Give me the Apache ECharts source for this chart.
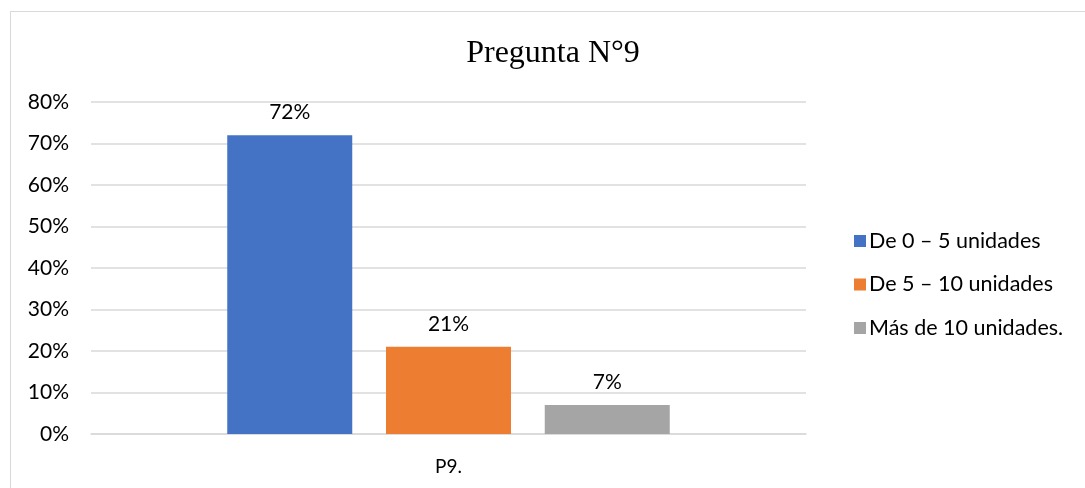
<!DOCTYPE html>
<html>
<head>
<meta charset="utf-8">
<script src="https://cdn.jsdelivr.net/npm/echarts@6/dist/echarts.min.js"></script>
<style>
  html, body { margin: 0; padding: 0; background: #fff; overflow: hidden; }
  #frame { position: absolute; left: 10px; top: 11px; width: 1100px; height: 500px; border: 1.5px solid #d9d9d9; box-sizing: border-box; }
  #chart { position: absolute; left: 0; top: 0; width: 1085px; height: 488px; }
</style>
</head>
<body>
<div id="frame"></div>
<div id="chart"></div>
<script>
// Encuesta: pregunta 9, porcentaje de respuestas por rango de unidades
const categories = ['P9.'];
const seriesNames = ['De 0 – 5 unidades', 'De 5 – 10 unidades', 'Más de 10 unidades.'];
const seriesValues = [[72], [21], [7]];
const seriesColors = ['#4472c4', '#ed7d31', '#a5a5a5'];
const yTicks = { min: 0, max: 80, interval: 10 };

const font = 'Lato, "Open Sans", sans-serif';
const chart = echarts.init(document.getElementById('chart'));

chart.setOption({
  backgroundColor: 'transparent',
  animation: false,
  title: {
    text: 'Pregunta N°9',
    left: 548,
    textAlign: 'center',
    top: 33,
    textStyle: { fontFamily: '"Liberation Serif", "DejaVu Serif", serif', fontSize: 32, fontWeight: 'normal', color: '#000' }
  },
  legend: {
    orient: 'vertical',
    left: 849,
    top: 224,
    itemWidth: 12,
    itemHeight: 12,
    itemGap: 19.5,
    icon: 'rect',
    data: seriesNames,
    textStyle: { fontFamily: font, fontSize: 21.5, color: '#000', padding: [0, 0, 0, -2], lineHeight: 24 }
  },
  grid: { left: 91, right: 279, top: 102, bottom: 54, containLabel: false },
  xAxis: {
    type: 'category',
    data: categories,
    axisLine: { lineStyle: { color: '#d9d9d9', width: 1.5 } },
    axisTick: { show: false },
    axisLabel: { fontFamily: font, fontSize: 19, color: '#000', margin: 23 }
  },
  yAxis: {
    type: 'value',
    min: yTicks.min,
    max: yTicks.max,
    interval: yTicks.interval,
    axisLine: { show: false },
    axisTick: { show: false },
    splitLine: { lineStyle: { color: '#d9d9d9', width: 1.5 } },
    axisLabel: { formatter: '{value}%', fontFamily: font, fontSize: 21, color: '#000', margin: 22 }
  },
  series: seriesNames.map((name, i) => ({
    name,
    type: 'bar',
    data: seriesValues[i],
    barWidth: 125,
    barGap: '27%',
    itemStyle: { color: seriesColors[i] },
    label: {
      show: true,
      position: 'top',
      distance: 12,
      formatter: '{c}%',
      fontFamily: font,
      fontSize: 21,
      color: '#000'
    }
  }))
});
</script>
</body>
</html>
